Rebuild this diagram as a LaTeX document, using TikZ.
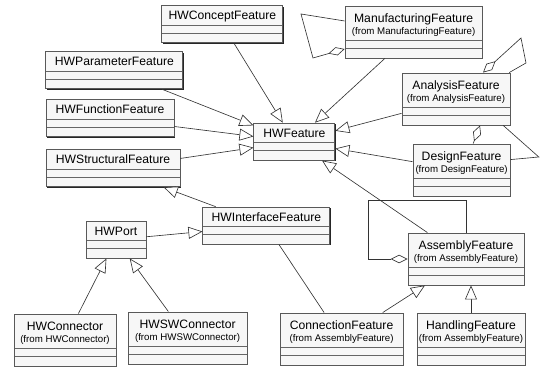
\documentclass[tikz,border=0pt]{standalone}
\usepackage{fontspec}
\setmainfont{Liberation Sans}
\usetikzlibrary{arrows.meta,shadows}
\newcommand{\clsfrom}[2]{\begin{tabular}[t]{@{}c@{}}#1\\[-0.8pt]\fontsize{6.9}{8}\selectfont(from #2)\end{tabular}}

\begin{document}
\begin{tikzpicture}[
  scale=1.0,
  cls/.style={rectangle, draw=black!65, fill=black!3, line width=0.6pt,
    font=\fontsize{8.65}{10}\selectfont, inner sep=0pt,
    text height=10pt, text depth=16.3pt,
    drop shadow={shadow xshift=0.7pt, shadow yshift=-0.7pt, fill=black!85, opacity=1},
    path picture={
      \draw[black!60, line width=0.6pt] ([yshift=6.8pt]path picture bounding box.south west) -- ([yshift=6.8pt]path picture bounding box.south east);
      \draw[black!60, line width=0.6pt] ([yshift=12.3pt]path picture bounding box.south west) -- ([yshift=12.3pt]path picture bounding box.south east);
    }},
  pkgcls/.style={cls, text height=11.4pt, text depth=25.6pt},
  inherit/.style={-{Triangle[length=10pt, width=8.5pt, fill=white]}, draw=black!80, line width=0.45pt},
  aggr/.style={draw=black!80, line width=0.45pt},
  assoc/.style={draw=black!80, line width=0.45pt}
]
  \useasboundingbox (0,0) rectangle (13.5,9.25);

  \node[cls, minimum width=3.025cm] (concept) at (5.56, 8.64) {HWConceptFeature};
  \node[pkgcls, minimum width=3.425cm] (manuf) at (10.34, 8.45) {\clsfrom{ManufacturingFeature}{ManufacturingFeature}};
  \node[cls, minimum width=3.425cm] (param) at (2.86, 7.49) {HWParameterFeature};
  \node[cls, minimum width=3.2cm] (func) at (2.75, 6.29) {HWFunctionFeature};
  \node[cls, minimum width=3.35cm] (struct) at (2.825, 5.04) {HWStructuralFeature};
  \node[cls, minimum width=2.025cm] (feat) at (7.36, 5.71) {HWFeature};
  \node[pkgcls, minimum width=2.7cm] (analysis) at (11.4, 6.775) {\clsfrom{AnalysisFeature}{AnalysisFeature}};
  \node[pkgcls, minimum width=2.425cm] (design) at (11.54, 5.0) {\clsfrom{DesignFeature}{DesignFeature}};
  \node[cls, minimum width=3.175cm] (iface) at (6.66, 3.61) {HWInterfaceFeature};
  \node[cls, minimum width=1.5cm] (port) at (2.9, 3.26) {HWPort};
  \node[pkgcls, minimum width=2.9cm] (assembly) at (11.65, 2.775) {\clsfrom{AssemblyFeature}{AssemblyFeature}};
  \node[pkgcls, minimum width=2.55cm] (conn) at (1.625, 0.75) {\clsfrom{HWConnector}{HWConnector}};
  \node[pkgcls, minimum width=2.975cm] (swconn) at (4.69, 0.8) {\clsfrom{HWSWConnector}{HWSWConnector}};
  \node[pkgcls, minimum width=3.075cm] (connection) at (8.54, 0.775) {\clsfrom{ConnectionFeature}{AssemblyFeature}};
  \node[pkgcls, minimum width=2.7cm] (handling) at (11.775, 0.775) {\clsfrom{HandlingFeature}{AssemblyFeature}};

  \coordinate (manufA) at (7.525, 8.9);
  \coordinate (manufB) at (7.825, 7.8);
  \coordinate (analysisA) at (13.025, 8.3);
  \coordinate (analysisB) at (13.15, 7.675);
  \coordinate (bendAD) at (13.47, 5.325);
  \coordinate (loopA) at (9.2, 4.25);

  \draw[inherit] (concept) -- (feat);
  \draw[inherit] (manuf) -- (feat);
  \draw[inherit] (param) -- (feat);
  \draw[inherit] (func) -- (feat);
  \draw[inherit] (struct) -- (feat);
  \draw[inherit] (analysis) -- (feat);
  \draw[inherit] (design) -- (feat);
  \draw[inherit] (assembly) -- (feat);
  \draw[inherit] (iface) -- (struct);
  \draw[inherit] (port) -- (iface);
  \draw[inherit] (conn) -- (port);
  \draw[inherit] (swconn) -- (port);
  \draw[inherit] (connection) -- (assembly);
  \draw[inherit] (handling.north) -- (handling.north |- assembly.south);
  \draw[assoc] (iface) -- (connection);

  % aggregations
  \draw[aggr, -{Diamond[length=12pt, width=6pt, fill=white]}] ([yshift=0.275cm]manuf.west) -- (manufA) -- (manufB) -- ([yshift=-0.425cm]manuf.west);
  \draw[aggr, {Diamond[length=12pt, width=6pt, fill=white]}-] ([xshift=0.675cm]analysis.north) -- (analysisA) -- (analysisB) -- ([xshift=-0.03cm]analysis.north east);
  \draw[aggr, {Diamond[length=12pt, width=6pt, fill=white]}-] ([xshift=0.6cm]analysis.south) -- ([xshift=0.29cm]design.north);
  \draw[assoc] ([xshift=-0.18cm]analysis.south east) -- (bendAD) -- ([yshift=0.26cm]design.east);
  \draw[aggr, -{Diamond[length=12pt, width=6pt, fill=white]}] (assembly.north) |- (loopA) |- (assembly.west);
\end{tikzpicture}
\end{document}
